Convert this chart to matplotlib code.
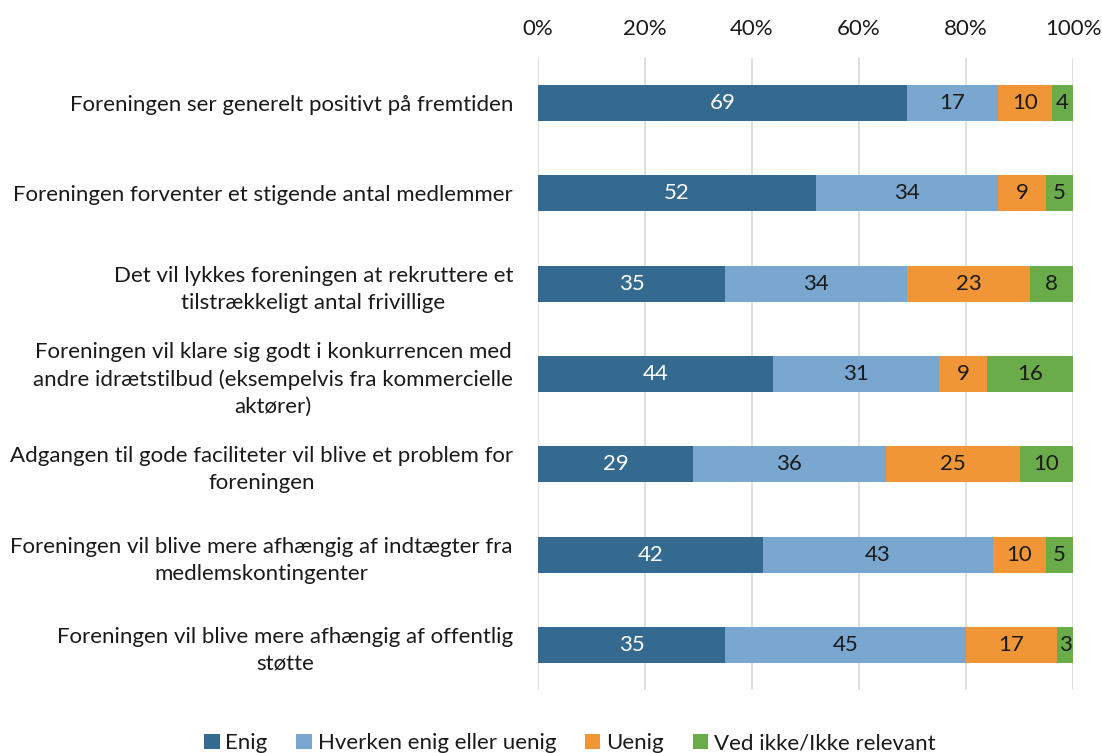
import matplotlib.pyplot as plt
import numpy as np

plt.rcParams['font.family'] = ['Lato', 'DejaVu Sans']

categories = [
    "Foreningen ser generelt positivt på fremtiden",
    "Foreningen forventer et stigende antal medlemmer",
    "Det vil lykkes foreningen at rekruttere et\ntilstrækkeligt antal frivillige",
    "Foreningen vil klare sig godt i konkurrencen med\nandre idrætstilbud (eksempelvis fra kommercielle\naktører)",
    "Adgangen til gode faciliteter vil blive et problem for\nforeningen",
    "Foreningen vil blive mere afhængig af indtægter fra\nmedlemskontingenter",
    "Foreningen vil blive mere afhængig af offentlig\nstøtte",
]
series_names = ["Enig", "Hverken enig eller uenig", "Uenig", "Ved ikke/Ikke relevant"]
enig = [69, 52, 35, 44, 29, 42, 35]
hverken = [17, 34, 34, 31, 36, 43, 45]
uenig = [10, 9, 23, 9, 25, 10, 17]
ved_ikke = [4, 5, 8, 16, 10, 5, 3]
colors = ["#346A90", "#7AA7CF", "#F09636", "#6AAC4A"]
text_colors = ["white", "#1a1a1a", "#1a1a1a", "#1a1a1a"]

fs = 16

fig = plt.figure(figsize=(11.02, 7.53), dpi=100)
ax = fig.add_axes([538 / 1102, 1 - 690 / 753, (1073 - 538) / 1102, (690 - 58) / 753])

y = np.arange(len(categories))
left = np.zeros(len(categories))
for name, vals, col, tcol in zip(series_names, [enig, hverken, uenig, ved_ikke], colors, text_colors):
    vals = np.array(vals, dtype=float)
    bars = ax.barh(y, vals, left=left, height=0.4, color=col, label=name, zorder=3)
    for b, v in zip(bars, vals):
        ax.text(b.get_x() + b.get_width() / 2, b.get_y() + b.get_height() / 2, f"{int(v)}",
                ha='center', va='center', color=tcol, fontsize=fs, zorder=4)
    left += vals

ax.set_xlim(0, 100)
ax.set_ylim(len(categories) - 0.5, -0.5)
ax.set_xticks(range(0, 101, 20))
ax.set_xticklabels([f"{t}%" for t in range(0, 101, 20)])
ax.xaxis.tick_top()
ax.tick_params(axis='x', length=0, pad=14, labelsize=fs, labelcolor='#1a1a1a')
ax.tick_params(axis='y', length=0, pad=18, labelsize=fs, labelcolor='#1a1a1a')
ax.set_yticks(y)
ax.set_yticklabels(categories, ha='right', multialignment='center', linespacing=1.45)
ax.grid(axis='x', color='#D9D9D9', linewidth=1.2, zorder=0)
for s in ax.spines.values():
    s.set_visible(False)

fig.legend(loc='lower center', bbox_to_anchor=(0.517, -0.027), ncol=4, frameon=False,
           fontsize=fs, handlelength=0.7, handleheight=0.7, handletextpad=0.25, columnspacing=1.3,
           labelcolor='#1a1a1a')

fig.savefig("out.png", dpi=100)
